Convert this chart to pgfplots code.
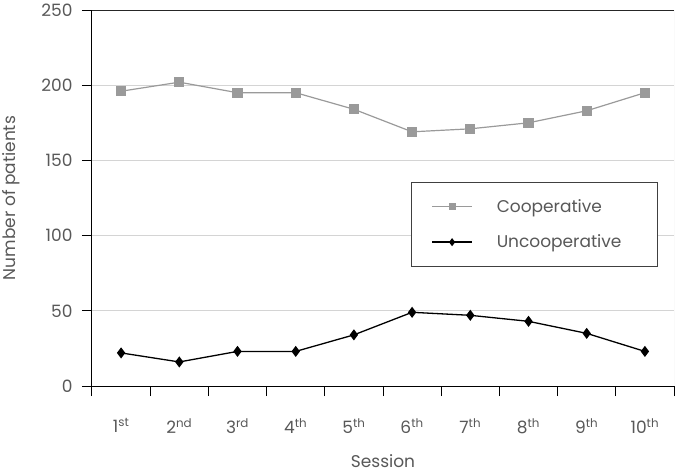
\documentclass[border=0pt]{standalone}
\usepackage{fontspec}
\setmainfont{Poppins}
\usepackage{pgfplots}
\pgfplotsset{compat=1.18}
\definecolor{txt}{HTML}{585858}
\definecolor{coop}{HTML}{9A9A9A}
\definecolor{gridc}{HTML}{D4D4D4}

\pgfplotstableread{
idx coop uncoop
0 196 22
1 202 16
2 195 23
3 195 23
4 184 34
5 169 49
6 171 47
7 175 43
8 183 35
9 195 23
}\sessions

\begin{document}
\begin{tikzpicture}
\path[use as bounding box] (-92pt,-89pt) rectangle (583pt,386pt);
\begin{axis}[
  at={(0,0)}, anchor=south west,
  scale only axis, width=582pt, height=376pt,
  xmin=-0.5, xmax=9.5, ymin=0, ymax=250,
  axis lines=left,
  axis line style={-, black, line width=1pt},
  xtick={-0.5,0.5,...,9.5}, xticklabels={},
  extra x ticks={0,1,...,9},
  extra x tick labels={1\textsuperscript{st},2\textsuperscript{nd},3\textsuperscript{rd},4\textsuperscript{th},5\textsuperscript{th},6\textsuperscript{th},7\textsuperscript{th},8\textsuperscript{th},9\textsuperscript{th},10\textsuperscript{th}},
  extra x tick style={major tick length=0pt, tick label style={yshift=-29pt}},
  ytick={0,50,...,250},
  tick align=outside, major tick length=10pt,
  tick style={black, line width=1pt},
  ymajorgrids, grid style={gridc, line width=1pt},
  /pgf/number format/assume math mode=true,
  tick label style={font=\fontsize{17}{20}\selectfont, text=txt},
  yticklabel style={xshift=-6pt},
  xlabel={Session}, ylabel={Number of patients},
  label style={font=\fontsize{17}{20}\selectfont, text=txt},
  xlabel style={at={(rel axis cs:0.5,0)}, anchor=center, yshift=-75pt},
  ylabel style={at={(rel axis cs:0,0.5)}, anchor=center, yshift=81pt},
  legend style={at={(rel axis cs:0.9725,0.5426)}, anchor=north east,
    draw=black!75, line width=1pt, fill=white,
    font=\fontsize{17}{20}\selectfont, text=txt,
    inner xsep=20pt, inner ysep=15pt, row sep=17pt, column sep=22pt},
  legend cell align=left,
  legend image code/.code={\draw[mark repeat=2,mark phase=2, mark size=3pt] plot coordinates {(0pt,0pt) (20pt,0pt) (40pt,0pt)};},
]
\addplot[coop, line width=1.2pt, mark=square*, mark size=4.5pt, mark options={fill=coop, draw=coop}]
  table[x=idx, y=coop] {\sessions};
\addlegendentry{Cooperative}
\addplot[black, line width=1.3pt, mark=diamond*, mark size=4.5pt, mark options={fill=black}]
  table[x=idx, y=uncoop] {\sessions};
\addlegendentry{Uncooperative\hspace*{14pt}}
\draw[black!85, line width=1.2pt] (rel axis cs:0,1) -- (rel axis cs:1,1);
\draw[gridc, line width=1pt] (rel axis cs:1,0) -- (rel axis cs:1,1);
\end{axis}
\end{tikzpicture}
\end{document}
